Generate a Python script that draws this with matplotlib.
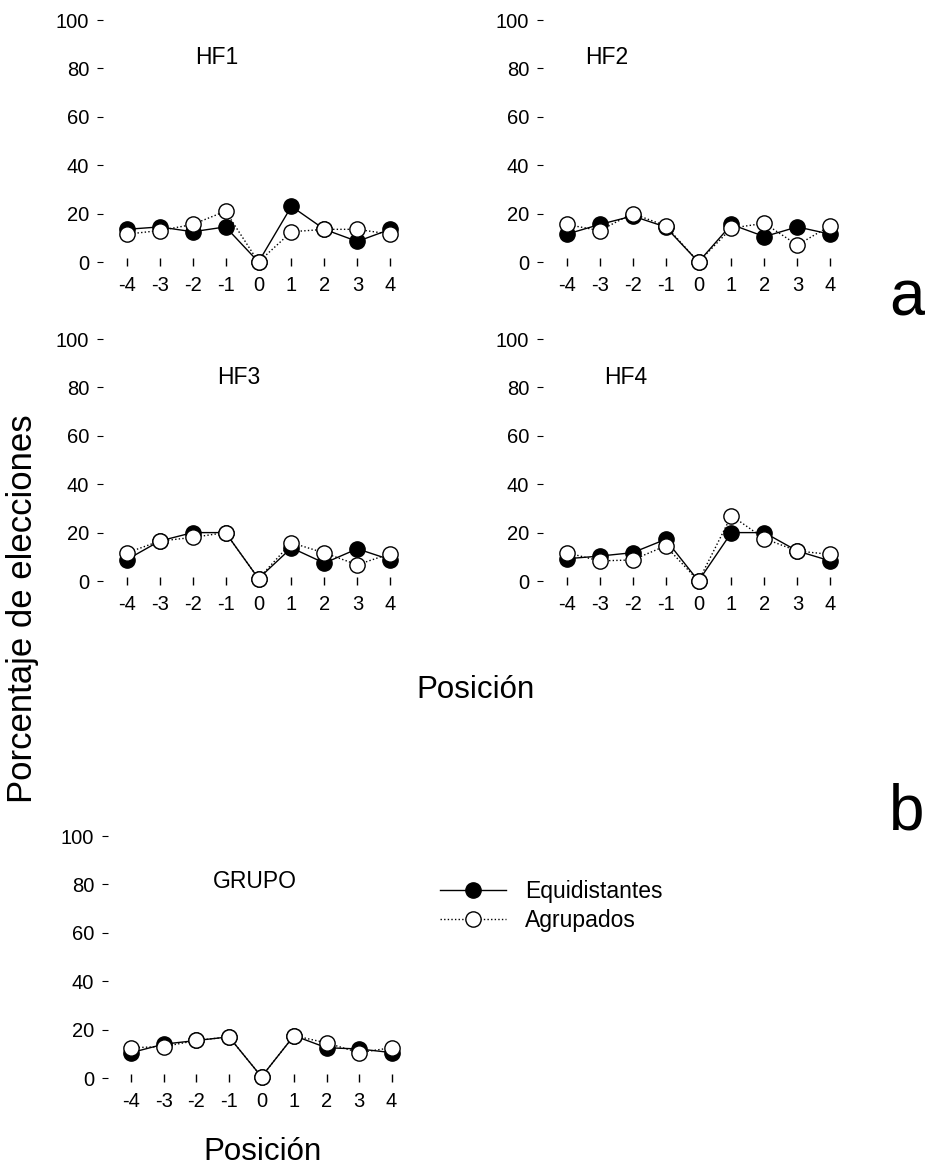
import matplotlib
matplotlib.use("Agg")
import matplotlib.pyplot as plt

plt.rcParams['font.family'] = ['Liberation Sans', 'DejaVu Sans']
plt.rcParams['axes.unicode_minus'] = False

# Positions relative to the target (x axis)
positions = [-4, -3, -2, -1, 0, 1, 2, 3, 4]
x_tick_labels = ['-4', '-3', '-2', '-1', '0', '1', '2', '3', '4']
y_ticks = [0, 20, 40, 60, 80, 100]

# Percentage of choices per position
hf1_equi = [13.5, 14.5, 12.5, 14.5, 0, 23, 13.5, 8.5, 13.5]
hf1_agru = [11.5, 13, 15.5, 21, 0, 12.5, 13.5, 13.5, 11.5]
hf2_equi = [11.5, 15.5, 19, 14.5, 0, 15.5, 10.5, 14.5, 11.5]
hf2_agru = [15.5, 13, 20, 15, 0, 14, 16, 7, 15]
hf3_equi = [8.8, 16.5, 20, 20, 1, 13.7, 7.4, 13.3, 8.8]
hf3_agru = [11.6, 16.5, 18, 20, 1, 15.8, 11.6, 6.7, 11.3]
hf4_equi = [9.2, 10.3, 11.7, 17.2, 0, 20, 20, 12.4, 8.3]
hf4_agru = [11.7, 8.3, 8.7, 14.5, 0, 27, 17.5, 12.4, 11]
grupo_equi = [10.5, 14, 15.5, 17, 0.5, 17.5, 12.5, 12, 10.5]
grupo_agru = [12.5, 13, 15.5, 17, 0.5, 17.5, 14.5, 10.5, 12.5]

series_names = ['Equidistantes', 'Agrupados']
panel_titles = ['HF1', 'HF2', 'HF3', 'HF4', 'GRUPO']

W, H = 925, 1168
fig = plt.figure(figsize=(W / 100, H / 100), dpi=100)

TICK_FS = 14.5
TITLE_FS = 16.5


def add_panel(left_px, zero_px, width_px=311, height_px=242):
    rect = [left_px / W, 1 - zero_px / H, width_px / W, height_px / H]
    return fig.add_axes(rect)


def style_axes(ax):
    ax.set_xlim(-4.72, 4.72)
    ax.set_ylim(0, 100)
    for s in ax.spines.values():
        s.set_visible(False)
    ax.set_xticks(positions, labels=x_tick_labels)
    ax.set_yticks(y_ticks)
    ax.tick_params(axis='x', direction='inout', length=6, width=1.0,
                   labelsize=TICK_FS, pad=7)
    ax.tick_params(axis='y', direction='out', length=4, width=0.8,
                   labelsize=TICK_FS, pad=6)
    ax.patch.set_alpha(0)


def draw(ax, equi, agru, title, tx, ty):
    l1, = ax.plot(positions, equi, '-', color='black', lw=1.0,
                  marker='o', ms=11, mfc='black', mec='black', mew=1.0,
                  clip_on=False, zorder=3, label=series_names[0])
    l2, = ax.plot(positions, agru, color='black', lw=1.0,
                  linestyle=(0, (1, 1.6)),
                  marker='o', ms=11, mfc='white', mec='black', mew=1.0,
                  clip_on=False, zorder=4, label=series_names[1])
    ax.text(tx, ty, title, fontsize=TITLE_FS, ha='center', va='center')
    style_axes(ax)
    return l1, l2


ax1 = add_panel(103, 262)
draw(ax1, hf1_equi, hf1_agru, panel_titles[0], -1.27, 84.5)
ax2 = add_panel(543, 262)
draw(ax2, hf2_equi, hf2_agru, panel_titles[1], -2.8, 84.5)
ax3 = add_panel(103, 581)
draw(ax3, hf3_equi, hf3_agru, panel_titles[2], -0.6, 84)
ax4 = add_panel(543, 581)
draw(ax4, hf4_equi, hf4_agru, panel_titles[3], -2.2, 84)
ax5 = add_panel(108, 1078, width_px=307)
h1, h2 = draw(ax5, grupo_equi, grupo_agru, panel_titles[4], -0.2, 81)

fig.legend([h1, h2], series_names, loc='center left',
           bbox_to_anchor=(440 / W, 1 - 906 / H), frameon=False,
           fontsize=TITLE_FS, handlelength=2.9, handletextpad=0.8,
           labelspacing=0.25, borderpad=0, borderaxespad=0, numpoints=1)

fig.text(23 / W, 1 - 609 / H, 'Porcentaje de elecciones', rotation=90,
         fontsize=25, ha='center', va='center')
fig.text(476 / W, 1 - 690 / H, 'Posición', fontsize=22.5,
         ha='center', va='center')
fig.text(262 / W, 1 - 1152 / H, 'Posición', fontsize=22.5,
         ha='center', va='center')
fig.text(907 / W, 1 - 298 / H, 'a', fontsize=46, ha='center', va='center')
fig.text(907 / W, 1 - 812 / H, 'b', fontsize=46, ha='center', va='center')

fig.savefig('out.png', dpi=100)
